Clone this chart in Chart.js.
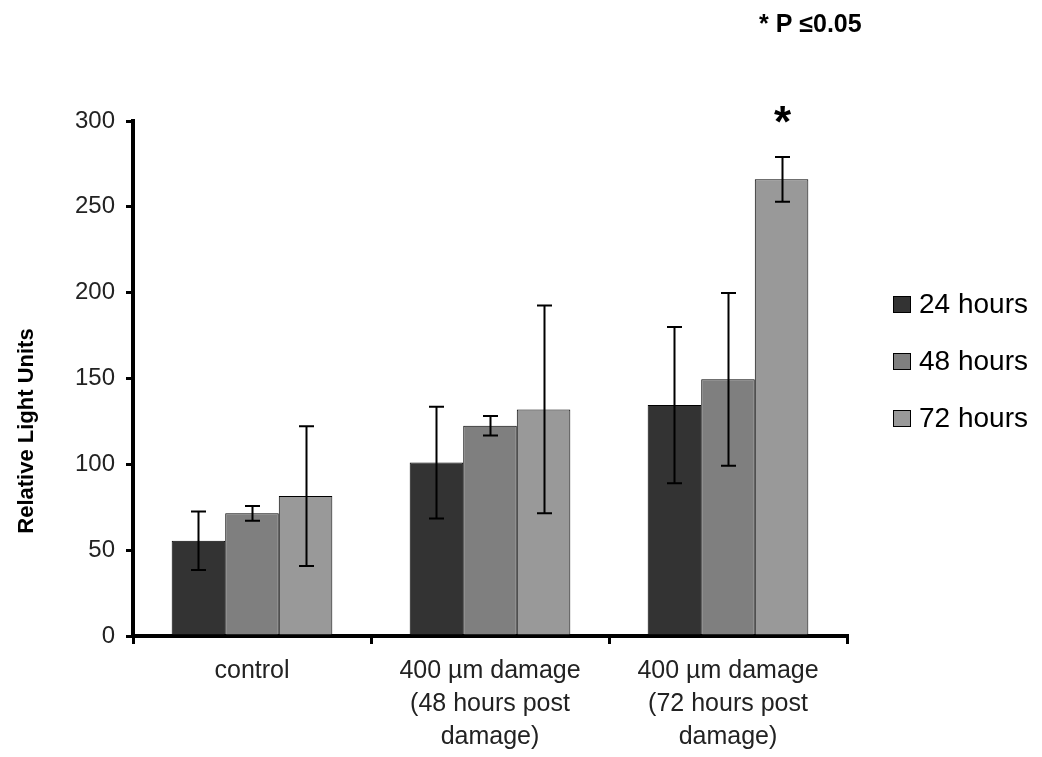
<!DOCTYPE html>
<html>
<head>
<meta charset="utf-8">
<script src="https://cdn.jsdelivr.net/npm/chart.js@4/dist/chart.umd.min.js"></script>
<style>
  html, body { margin: 0; padding: 0; background: #fff; }
  #Lienzo { display: block; }
</style>
</head>
<body>
<canvas id="Lienzo" width="1042" height="757"></canvas>
<script>
const Grupos = [
  ['control'],
  ['400 µm damage', '(48 hours post', 'damage)'],
  ['400 µm damage', '(72 hours post', 'damage)']
];
const Series   = ['24 hours', '48 hours', '72 hours'];
const Colores  = ['#333333', '#7f7f7f', '#999999'];

const Media24 = [55.5, 101, 134.5];
const Media48 = [71.5, 122.5, 149.5];
const Media72 = [81.5, 132, 266];

const Error24 = [17, 32.5, 45.5];
const Error48 = [4.3, 5.7, 50.3];
const Error72 = [40.7, 60.5, 13];

const Marcas72 = [null, null, '*'];
const Nota = '* P ≤0.05';
const TituloY = 'Relative Light Units';

const Fuente = "'Liberation Sans', Arial, sans-serif";

const Medias  = [Media24, Media48, Media72];
const Errores = [Error24, Error48, Error72];
const Marcas  = [[], [], Marcas72];

// barras de error, asterisco, leyenda y textos sueltos
const PluginExtras = {
  id: 'Extras',
  afterDatasetsDraw(Chart_) {
    const { ctx, scales: { y } } = Chart_;
    ctx.save();
    ctx.strokeStyle = '#000';
    ctx.lineWidth = 2;
    Chart_.data.datasets.forEach((D, i) => {
      const Meta = Chart_.getDatasetMeta(i);
      Meta.data.forEach((Barra, j) => {
        const M = D.data[j], E = Errores[i][j];
        const YA = y.getPixelForValue(M + E), YB = y.getPixelForValue(M - E);
        const X = Math.round(Barra.x) + 0.5;
        ctx.beginPath();
        ctx.moveTo(X, YA); ctx.lineTo(X, YB);
        ctx.moveTo(X - 7.5, YA); ctx.lineTo(X + 7.5, YA);
        ctx.moveTo(X - 7.5, YB); ctx.lineTo(X + 7.5, YB);
        ctx.stroke();
        const Marca = Marcas[i][j];
        if (Marca) {
          ctx.fillStyle = '#000';
          ctx.font = `bold 44px ${Fuente}`;
          ctx.textAlign = 'center';
          ctx.textBaseline = 'alphabetic';
          ctx.fillText(Marca, X, YA - 20);
        }
      });
    });
    ctx.restore();
  },
  afterDraw(Chart_) {
    const { ctx } = Chart_;
    ctx.save();
    // leyenda
    ctx.font = `28px ${Fuente}`;
    ctx.textBaseline = 'middle';
    ctx.textAlign = 'left';
    Chart_.data.datasets.forEach((D, i) => {
      const YC = 304 + i * 57;
      ctx.fillStyle = D.backgroundColor;
      ctx.fillRect(893, YC - 8, 18, 17);
      ctx.strokeStyle = '#000';
      ctx.lineWidth = 1;
      ctx.strokeRect(893.5, YC - 7.5, 17, 16);
      ctx.fillStyle = '#000';
      ctx.fillText(D.label, 919, YC + 1);
    });
    // nota
    ctx.font = `bold 25px ${Fuente}`;
    ctx.textBaseline = 'alphabetic';
    ctx.fillText(Nota, 759, 32);
    // titulo eje y
    ctx.translate(27, 431);
    ctx.rotate(-Math.PI / 2);
    ctx.font = `bold 22px ${Fuente}`;
    ctx.textAlign = 'center';
    ctx.textBaseline = 'middle';
    ctx.fillText(TituloY, 0, 0);
    ctx.restore();
  }
};

new Chart(document.getElementById('Lienzo').getContext('2d'), {
  type: 'bar',
  data: {
    labels: Grupos,
    datasets: Series.map((S, i) => ({
      label: S,
      data: Medias[i],
      backgroundColor: Colores[i],
      borderColor: '#000',
      borderWidth: 1,
      borderSkipped: 'start',
      categoryPercentage: 0.675,
      barPercentage: 1.0
    }))
  },
  options: {
    responsive: false,
    animation: false,
    layout: { padding: { left: 0, right: 195, top: 121, bottom: 0 } },
    plugins: {
      legend: { display: false },
      tooltip: { enabled: false }
    },
    scales: {
      x: {
        afterFit: S => { S.height = 121; },
        grid: {
          offset: true, drawOnChartArea: false, drawTicks: true,
          tickLength: 8, lineWidth: 3, color: '#000'
        },
        border: { display: true, width: 4, color: '#000' },
        ticks: {
          color: '#222', padding: 11,
          font: { family: Fuente, size: 25, lineHeight: 1.32 }
        }
      },
      y: {
        min: 0, max: 300,
        afterFit: S => { S.width = 133; },
        grid: {
          drawOnChartArea: false, drawTicks: true,
          tickLength: 7, lineWidth: 3, color: '#000'
        },
        border: { display: true, width: 4, color: '#000' },
        ticks: {
          stepSize: 50, color: '#222', padding: 11,
          font: { family: Fuente, size: 24 }
        }
      }
    }
  },
  plugins: [PluginExtras]
});
</script>
</body>
</html>
